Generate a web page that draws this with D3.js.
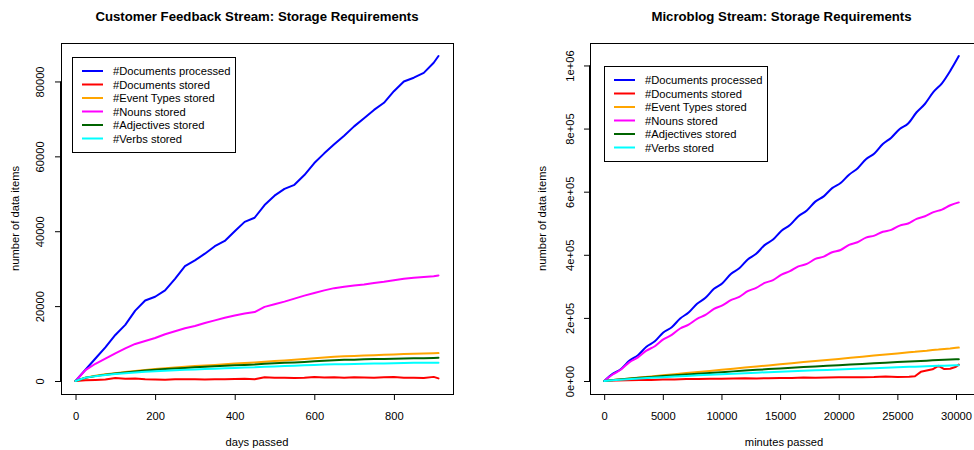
<!DOCTYPE html>
<html>
<head>
<meta charset="utf-8">
<script src="https://cdn.jsdelivr.net/npm/d3@7/dist/d3.min.js"></script>
<style>
  html, body { margin: 0; padding: 0; background: #fff; }
  svg { display: block; }
  text { font-family: "Liberation Sans", Arial, Helvetica, sans-serif; fill: #000; }
</style>
</head>
<body>
<svg id="chart" width="974" height="450"></svg>
<script>
// ---- Customer feedback stream (x = days passed) ----
const days = [0, 25, 50, 75, 100, 125, 150, 175, 200, 225, 250, 275, 300, 325, 350, 375, 400, 425, 450, 475,
  500, 525, 550, 575, 600, 625, 650, 675, 700, 725, 750, 775, 800, 825, 850, 875, 900, 912];
const cfDocsProcessed = [0, 3000, 6000, 9000, 12300, 15000, 18800, 21500, 22500, 24200, 27300, 30700, 32200, 34000, 36000, 37400, 40000, 42500, 43600, 47000,
  49500, 51300, 52400, 55000, 58200, 60800, 63200, 65500, 68000, 70200, 72400, 74300, 77400, 80000, 81000, 82300, 85000, 86800];
const cfDocsStored = [0, 200, 300, 400, 800, 600, 700, 500, 400, 350, 450, 500, 450, 400, 450, 500, 550, 600, 450, 1000,
  900, 850, 800, 900, 1100, 950, 1000, 900, 1000, 950, 900, 1000, 1050, 900, 850, 800, 1100, 700];
const cfEventTypes = [0, 900, 1400, 1800, 2100, 2400, 2700, 2950, 3200, 3400, 3600, 3800, 4000, 4150, 4300, 4500, 4650, 4800, 4950, 5150,
  5350, 5500, 5650, 5850, 6050, 6250, 6450, 6600, 6700, 6800, 6900, 7000, 7100, 7200, 7300, 7350, 7400, 7450];
const cfNouns = [0, 2900, 4600, 6000, 7400, 8700, 9900, 10700, 11500, 12500, 13300, 14100, 14700, 15500, 16200, 16900, 17500, 18000, 18400, 19800,
  20500, 21200, 22000, 22800, 23500, 24200, 24800, 25200, 25500, 25800, 26200, 26500, 26900, 27300, 27600, 27800, 28000, 28200];
const cfAdjectives = [0, 850, 1300, 1700, 2000, 2300, 2550, 2800, 3000, 3200, 3350, 3500, 3650, 3800, 3950, 4100, 4200, 4300, 4400, 4600,
  4750, 4850, 4950, 5100, 5250, 5400, 5550, 5650, 5700, 5800, 5850, 5900, 5950, 6000, 6050, 6100, 6150, 6200];
const cfVerbs = [0, 900, 1300, 1600, 1850, 2050, 2250, 2450, 2600, 2750, 2900, 3000, 3100, 3200, 3300, 3400, 3500, 3600, 3650, 3800,
  3900, 4000, 4100, 4200, 4300, 4400, 4450, 4500, 4550, 4600, 4650, 4700, 4750, 4800, 4850, 4850, 4900, 4900];
const cfXTicks = [0, 200, 400, 600, 800];
const cfYTicks = [0, 20000, 40000, 60000, 80000];
const cfYTickLabels = ["0", "20000", "40000", "60000", "80000"];

// ---- Microblog stream (x = minutes passed) ----
// half-day samples for the two fast-growing counts (they show a daily rhythm)
const minutesHalfDay = [0, 720, 1440, 2160, 2880, 3600, 4320, 5040, 5760, 6480, 7200, 7920, 8640, 9360, 10080, 10800,
  11520, 12240, 12960, 13680, 14400, 15120, 15840, 16560, 17280, 18000, 18720, 19440, 20160, 20880, 21600, 22320,
  23040, 23760, 24480, 25200, 25920, 26640, 27360, 28080, 28800, 29520, 30240];
const mbDocsProcessed = [0, 22700, 38300, 64500, 81800, 108500, 125700, 153700, 170300, 198300, 216900, 244900, 263600, 292000, 310100, 338900,
  357100, 385200, 403200, 430600, 448300, 476300, 494400, 522400, 540500, 568500, 585100, 611300, 627300, 653900, 673500, 702700,
  720900, 751100, 771300, 798700, 816000, 851700, 878700, 916100, 943500, 983600, 1030000];
const mbNouns = [0, 20500, 36500, 60000, 75100, 96200, 110200, 131800, 146200, 166400, 178400, 197100, 209300, 228400, 239600, 256200,
  266600, 284600, 295400, 310700, 319800, 337200, 348000, 363200, 371000, 386800, 394000, 408000, 415100, 431600, 439800, 454300,
  460700, 472900, 478900, 492600, 499100, 514000, 522000, 535100, 543300, 557100, 566000];
// coarser samples for the slow-growing counts
const minutes = [0, 1000, 2000, 3000, 4000, 5000, 6000, 7000, 8000, 9000, 10000, 11000, 12000, 13000, 14000, 15000, 16000, 17000,
  18000, 19000, 20000, 21000, 22000, 23000, 24000, 25000, 26000, 26500, 27000, 27500, 28000, 28500, 29000, 29500, 30000, 30240];
const mbDocsStored = [0, 1500, 2500, 3000, 3500, 4500, 5000, 6500, 6000, 7000, 7500, 8000, 8500, 8000, 9000, 9500, 9500, 11000,
  10000, 11000, 12000, 11500, 12000, 12500, 14000, 13000, 13500, 15000, 29000, 33000, 37000, 48000, 38000, 39000, 45000, 52000];
const mbEventTypes = [0, 4000, 7500, 11000, 14500, 18000, 21500, 25000, 28500, 32000, 35500, 39000, 42500, 46000, 49500, 53000, 56500, 60000,
  63000, 66500, 70000, 73500, 77000, 80500, 84000, 87500, 91000, 92500, 94500, 96000, 98000, 99500, 101500, 103000, 105000, 106000];
const mbAdjectives = [0, 4000, 7000, 10000, 12800, 15500, 18000, 20500, 23000, 25500, 28000, 30500, 33000, 35300, 37700, 40000, 42000, 44000,
  46000, 48000, 50000, 52000, 54000, 56000, 58000, 60000, 61800, 62700, 63600, 64500, 65400, 66300, 67200, 68000, 68700, 69000];
const mbVerbs = [0, 3000, 5500, 8000, 10000, 12000, 14000, 16000, 18000, 19800, 21500, 23200, 24800, 26400, 28000, 29500, 31000, 32400,
  33800, 35100, 36500, 37900, 39300, 40700, 42100, 43500, 44800, 45500, 46100, 46800, 47400, 48000, 48600, 49200, 49800, 50000];
const mbXTicks = [0, 5000, 10000, 15000, 20000, 25000, 30000];
const mbYTicks = [0, 200000, 400000, 600000, 800000, 1000000];
const mbYTickLabels = ["0e+00", "2e+05", "4e+05", "6e+05", "8e+05", "1e+06"];

const seriesNames = ["#Documents processed", "#Documents stored", "#Event Types stored",
  "#Nouns stored", "#Adjectives stored", "#Verbs stored"];
const seriesColors = ["#0000ff", "#ff0000", "#ffa500", "#ff00ff", "#006400", "#00ffff"];

const svg = d3.select("#chart");
const FS = 11.2;

// R-style axis range: data extent padded by 4% on each side
function paddedExtent(arrays) {
  const lo = d3.min(arrays, a => d3.min(a));
  const hi = d3.max(arrays, a => d3.max(a));
  const pad = (hi - lo) * 0.04;
  return [lo - pad, hi + pad];
}

function drawPanel(p) {
  const g = svg.append("g");
  const x = d3.scaleLinear().domain(paddedExtent(p.series.map(s => s.xs))).range([p.left, p.right]);
  const y = d3.scaleLinear().domain(paddedExtent(p.series.map(s => s.ys))).range([p.bottom, p.top]);

  // title
  g.append("text").attr("x", (p.left + p.right) / 2).attr("y", 16)
    .attr("text-anchor", "middle").attr("dominant-baseline", "central")
    .style("font-weight", "bold").style("font-size", "13.2px").text(p.title);

  // series lines
  p.series.forEach((s, k) => {
    const line = d3.line().x((d, i) => x(s.xs[i])).y(d => y(d)).curve(s.curve || d3.curveLinear);
    g.append("path").datum(s.ys).attr("d", line)
      .attr("fill", "none").attr("stroke", seriesColors[k])
      .attr("stroke-width", 2).attr("stroke-linejoin", "round").attr("stroke-linecap", "round");
  });

  // bottom axis
  const ax = g.append("g").attr("transform", `translate(0,${p.bottom})`)
    .call(d3.axisBottom(x).tickValues(p.xTicks).tickFormat(d3.format("d")).tickSize(6).tickSizeOuter(0));
  ax.select(".domain").attr("d", `M${x(p.xTicks[0])},0.5H${x(p.xTicks[p.xTicks.length - 1])}`).attr("stroke", "#000");
  ax.selectAll(".tick line").attr("stroke", "#000");
  ax.selectAll(".tick text").attr("y", 21.7).attr("dy", null).attr("dominant-baseline", "central")
    .style("font-size", FS + "px").style("font-family", "Liberation Sans, Arial, sans-serif").attr("fill", "#000");

  // left axis, labels parallel to the axis
  const ay = g.append("g").attr("transform", `translate(${p.left},0)`)
    .call(d3.axisLeft(y).tickValues(p.yTicks).tickFormat((d, i) => p.yTickLabels[i]).tickSize(6).tickSizeOuter(0));
  ay.select(".domain").attr("d", `M-0.5,${y(p.yTicks[0])}V${y(p.yTicks[p.yTicks.length - 1])}`).attr("stroke", "#000");
  ay.selectAll(".tick line").attr("stroke", "#000");
  ay.selectAll(".tick text").attr("x", null).attr("dy", null)
    .attr("text-anchor", "middle").attr("dominant-baseline", "central")
    .attr("transform", `translate(${p.yLabelX - p.left},0) rotate(-90)`)
    .style("font-size", FS + "px").style("font-family", "Liberation Sans, Arial, sans-serif").attr("fill", "#000");

  // plot box
  g.append("rect").attr("x", p.left + 0.5).attr("y", p.top + 0.5)
    .attr("width", p.boxRight - p.left).attr("height", p.bottom - p.top)
    .attr("fill", "none").attr("stroke", "#000").attr("stroke-width", 1);

  // axis titles
  g.append("text").attr("x", (p.left + p.boxRight) / 2).attr("y", 442)
    .attr("text-anchor", "middle").attr("dominant-baseline", "central")
    .style("font-size", FS + "px").text(p.xTitle);
  g.append("text").attr("transform", `translate(${p.yTitleX},${(p.top + p.bottom) / 2}) rotate(-90)`)
    .attr("text-anchor", "middle").attr("dominant-baseline", "central")
    .style("font-size", FS + "px").text("number of data items");

  // legend
  const lg = g.append("g").attr("transform", `translate(${p.legendX},${p.legendY})`);
  lg.append("rect").attr("x", 0.5).attr("y", 0.5).attr("width", 163).attr("height", 95)
    .attr("fill", "#fff").attr("stroke", "#000").attr("stroke-width", 1);
  seriesNames.forEach((name, k) => {
    const yy = 14 + k * 13.5;
    lg.append("line").attr("x1", 10).attr("x2", 31).attr("y1", yy).attr("y2", yy)
      .attr("stroke", seriesColors[k]).attr("stroke-width", 2);
    lg.append("text").attr("x", 41).attr("y", yy).attr("dominant-baseline", "central")
      .style("font-size", FS + "px").text(name);
  });
}

drawPanel({
  title: "Customer Feedback Stream: Storage Requirements",
  xTitle: "days passed",
  left: 61, right: 453, boxRight: 453, top: 43, bottom: 394,
  series: [
    { xs: days, ys: cfDocsProcessed },
    { xs: days, ys: cfDocsStored },
    { xs: days, ys: cfEventTypes },
    { xs: days, ys: cfNouns },
    { xs: days, ys: cfAdjectives },
    { xs: days, ys: cfVerbs }
  ],
  xTicks: cfXTicks, yTicks: cfYTicks, yTickLabels: cfYTickLabels,
  yLabelX: 40, yTitleX: 15,
  legendX: 72, legendY: 57
});

drawPanel({
  title: "Microblog Stream: Storage Requirements",
  xTitle: "minutes passed",
  left: 590, right: 973, boxRight: 978, top: 43, bottom: 394,
  series: [
    { xs: minutesHalfDay, ys: mbDocsProcessed, curve: d3.curveMonotoneX },
    { xs: minutes, ys: mbDocsStored },
    { xs: minutes, ys: mbEventTypes },
    { xs: minutesHalfDay, ys: mbNouns, curve: d3.curveMonotoneX },
    { xs: minutes, ys: mbAdjectives },
    { xs: minutes, ys: mbVerbs }
  ],
  xTicks: mbXTicks, yTicks: mbYTicks, yTickLabels: mbYTickLabels,
  yLabelX: 570, yTitleX: 542,
  legendX: 604, legendY: 66
});
</script>
</body>
</html>
